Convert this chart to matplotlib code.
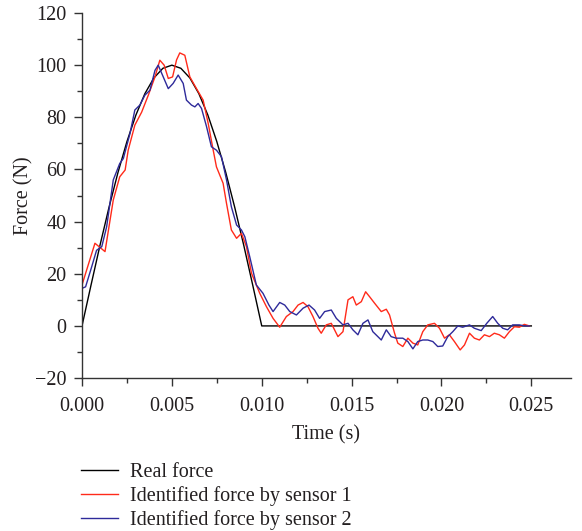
from matplotlib import pyplot as plt
from matplotlib.ticker import MultipleLocator
import numpy as np

plt.rcParams["font.family"] = ["Liberation Serif", "DejaVu Serif"]
plt.rcParams["font.size"] = 14

# real force
t_real = [0.0, 0.0005, 0.001, 0.0015, 0.002, 0.0025, 0.003, 0.0035, 0.004, 0.0045,
          0.005, 0.0055, 0.006, 0.0065, 0.007, 0.0075, 0.008, 0.0085, 0.009, 0.0095,
          0.01, 0.025]
f_real = [0, 15.6, 30.9, 45.4, 58.8, 70.7, 80.9, 89.1, 95.1, 98.8,
          100, 98.8, 95.1, 89.1, 80.9, 70.7, 58.8, 45.4, 30.9, 15.6,
          0, 0]

# identified force, sensor 1
t_s1 = [0.0, 0.00072, 0.00128, 0.00174, 0.0021, 0.0024, 0.00257, 0.00294, 0.00332, 0.00369,
        0.00406, 0.00433, 0.00457, 0.0048, 0.00504, 0.00526, 0.00544, 0.00572, 0.006, 0.00637,
        0.00674, 0.00702, 0.0073, 0.00748, 0.00785, 0.00804, 0.00831, 0.0086, 0.00887, 0.00915,
        0.00943, 0.00989, 0.01026, 0.01063, 0.011, 0.01137, 0.01174, 0.01202, 0.0123, 0.01257,
        0.01285, 0.01313, 0.01331, 0.01359, 0.01387, 0.01424, 0.01452, 0.0148, 0.01507, 0.01526,
        0.01554, 0.01578, 0.016, 0.01628, 0.01665, 0.01693, 0.01711, 0.01739, 0.01757, 0.01785,
        0.01813, 0.01841, 0.01868, 0.01896, 0.01924, 0.01961, 0.01989, 0.02017, 0.02044, 0.02072,
        0.02104, 0.02128, 0.02156, 0.02183, 0.02211, 0.02239, 0.02267, 0.02294, 0.02322, 0.0235,
        0.02378, 0.02406, 0.02433, 0.02461, 0.02489]
f_s1 = [15.7, 31.7, 28.5, 48.3, 57.2, 59.8, 67.4, 77.0, 82.0, 88.5,
        95.5, 101.9, 100.0, 94.9, 95.5, 102.0, 104.7, 103.8, 95.5, 91.0,
        86.6, 77.7, 67.4, 61.0, 54.7, 47.0, 36.8, 33.6, 35.5, 30.4,
        20.2, 12.5, 7.4, 2.9, -0.5, 3.6, 5.5, 8.0, 9.0, 7.4,
        3.6, -0.9, -2.8, 0.4, 1.0, -4.1, -2.2, 10.0, 11.2, 8.0,
        9.3, 13.1, 11.2, 8.7, 5.5, 6.4, 4.2, -2.8, -6.6, -7.9,
        -4.7, -6.6, -7.3, -2.2, 0.4, 1.0, -0.9, -4.7, -3.4, -6.0,
        -9.2, -7.3, -2.8, -4.7, -5.4, -3.4, -4.1, -2.8, -3.4, -4.7,
        -2.2, -0.3, -0.5, 0.6, 0.0]

# identified force, sensor 2
t_s2 = [0.0, 0.0002, 0.00054, 0.00081, 0.0011, 0.00137, 0.00174, 0.0021, 0.0023, 0.00267,
        0.00294, 0.00322, 0.0035, 0.00378, 0.00406, 0.00424, 0.00452, 0.0048, 0.00507, 0.00535,
        0.00563, 0.00581, 0.00609, 0.00628, 0.00646, 0.00665, 0.00693, 0.0072, 0.00748, 0.00776,
        0.00804, 0.00831, 0.0086, 0.00887, 0.00906, 0.00933, 0.0097, 0.01007, 0.0104, 0.01063,
        0.011, 0.01128, 0.01156, 0.01193, 0.0123, 0.01263, 0.01294, 0.01322, 0.0135, 0.01387,
        0.01415, 0.01452, 0.0148, 0.01507, 0.01535, 0.01563, 0.01591, 0.01618, 0.01646, 0.01665,
        0.01693, 0.0172, 0.01748, 0.01785, 0.01813, 0.01841, 0.01868, 0.01896, 0.01924, 0.01952,
        0.01979, 0.02007, 0.02035, 0.02063, 0.02091, 0.02118, 0.02156, 0.02183, 0.02221, 0.02252,
        0.02285, 0.02313, 0.02341, 0.02368, 0.02396, 0.02433, 0.02461, 0.02489]
f_s2 = [14.4, 15.0, 22.7, 29.0, 30.4, 38.0, 56.0, 62.3, 64.2, 73.8,
        82.8, 84.7, 88.5, 90.4, 98.0, 100.0, 95.5, 91.0, 93.0, 96.2,
        93.0, 86.6, 84.7, 84.0, 85.3, 83.4, 76.4, 68.7, 67.4, 64.9,
        56.0, 45.7, 38.7, 36.8, 34.2, 26.6, 15.7, 12.5, 8.0, 5.5,
        9.0, 8.0, 5.5, 4.2, 6.8, 8.0, 6.1, 2.9, 5.5, 6.1,
        2.9, 0.4, 1.0, -1.5, -3.4, 1.0, 2.3, -2.2, -4.1, -5.4,
        -1.5, -4.1, -4.7, -4.7, -6.0, -8.8, -6.0, -5.4, -5.4, -6.0,
        -7.9, -7.7, -4.1, -2.2, 0.0, -0.5, 0.4, -0.9, -1.8, 1.0,
        3.6, 1.0, -0.9, -1.5, 0.4, 0.4, 0.0, 0.0]

text_color = '#231f20'

fig = plt.figure(figsize=(5.82, 5.31), dpi=100)
ax = fig.add_axes([0.1409, 0.288, 0.84, 0.6875])

ax.plot(t_real, f_real, color='black', linewidth=1.0, label='Real force')
ax.plot(t_s1, f_s1, color='#ff2a1a', linewidth=1.0, label='Identified force by sensor 1')
ax.plot(t_s2, f_s2, color='#2e2a9a', linewidth=1.0, label='Identified force by sensor 2')

ax.set_xlim(0, 0.0272)
ax.set_ylim(-20, 120)
ax.xaxis.set_major_locator(MultipleLocator(0.005))
ax.xaxis.set_minor_locator(MultipleLocator(0.0025))
ax.yaxis.set_major_locator(MultipleLocator(20))
ax.yaxis.set_minor_locator(MultipleLocator(10))
ax.xaxis.set_major_formatter(plt.FormatStrFormatter('%.3f'))
ax.yaxis.set_major_formatter(plt.FuncFormatter(lambda v, p: f'{v:.0f}'.replace('-', '\u2212')))

for side in ['top', 'right']:
    ax.spines[side].set_visible(False)
for side in ['left', 'bottom']:
    ax.spines[side].set_color('#333333')
    ax.spines[side].set_linewidth(1.0)

ax.tick_params(which='major', direction='out', length=5.5, width=1.0, color='#333333',
               labelcolor=text_color, labelsize=14.5)
ax.tick_params(axis='x', which='major', pad=8)
ax.tick_params(axis='y', which='major', pad=5.5)
ax.tick_params(which='minor', direction='out', length=3.5, width=1.0, color='#333333')

ax.set_xlabel('Time (s)', color=text_color, fontsize=14.5, labelpad=7)
ax.set_ylabel('Force (N)', color=text_color, fontsize=14.5, labelpad=1)

fig.legend(loc='upper left', bbox_to_anchor=(0.14, 0.128), frameon=False,
           fontsize=14.5, handlelength=1.8, handletextpad=0.6, labelspacing=0.2,
           borderaxespad=0, borderpad=0, labelcolor=text_color)

fig.savefig('out.png', dpi=100)
